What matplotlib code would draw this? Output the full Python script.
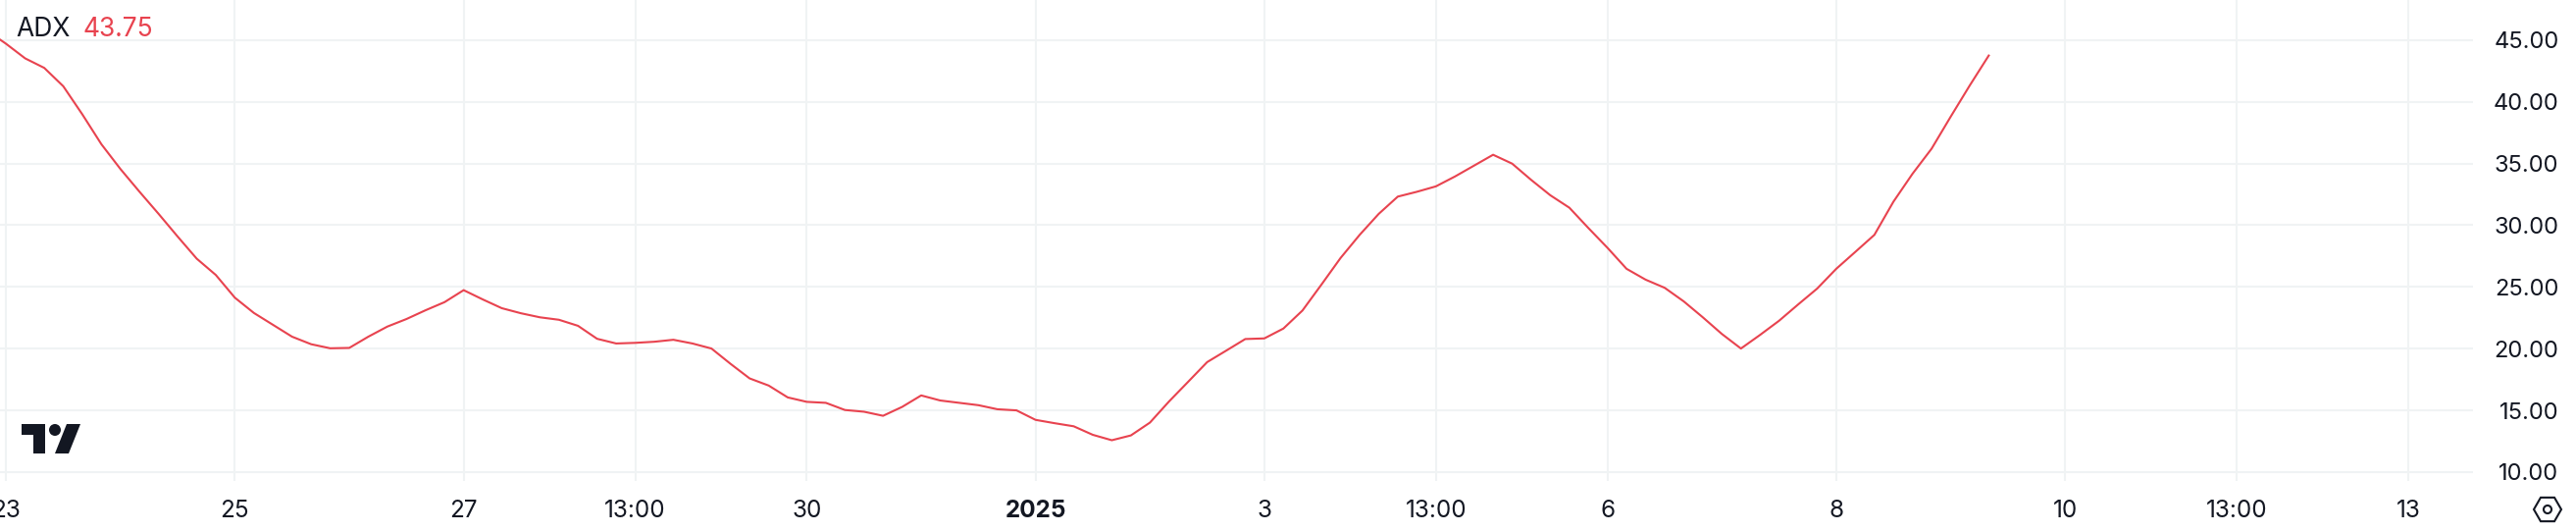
from __future__ import annotations

import matplotlib

matplotlib.use("Agg")
import matplotlib.pyplot as plt
from matplotlib.patches import Circle, Polygon, RegularPolygon

plt.rcParams["font.family"] = ["Inter", "DejaVu Sans"]

W, H = 2626, 542
TEXT = "#131722"
RED = "#E8434F"
GRID = "#F0F3F4"

# ADX per 4h bar, first value sits one bar left of the visible area
adx = [
    45.77, 44.70, 43.52, 42.75, 41.26, 38.98, 36.56, 34.55, 32.71, 30.92, 29.08,
    27.29, 25.97, 24.13, 22.89, 21.93, 20.97, 20.36, 20.03, 20.06, 20.97, 21.79,
    22.40, 23.11, 23.77, 24.74, 23.99, 23.28, 22.87, 22.54, 22.34, 21.85, 20.80,
    20.42, 20.47, 20.56, 20.72, 20.42, 20.01, 18.77, 17.59, 17.01, 16.05, 15.69,
    15.61, 15.03, 14.89, 14.56, 15.28, 16.21, 15.80, 15.61, 15.42, 15.09, 15.00,
    14.23, 13.96, 13.71, 13.02, 12.58, 12.97, 14.01, 15.72, 17.31, 18.91, 19.84,
    20.78, 20.83, 21.63, 23.09, 25.20, 27.35, 29.22, 30.92, 32.32, 32.71, 33.15,
    33.95, 34.83, 35.71, 34.99, 33.67, 32.43, 31.42, 29.77, 28.17, 26.47, 25.59,
    24.93, 23.83, 22.54, 21.19, 20.01, 21.11, 22.26, 23.58, 24.87, 26.47, 27.84,
    29.22, 31.91, 34.17, 36.20, 38.79, 41.32, 43.75,
]
bars = list(range(-1, len(adx) - 1))

x_tick_bars = [0, 12, 24, 33, 42, 54, 66, 75, 84, 96, 108, 117, 126]
x_tick_labels = ["23", "25", "27", "13:00", "30", "2025", "3", "13:00", "6", "8", "10", "13:00", "13"]
y_ticks = [10, 15, 20, 25, 30, 35, 40, 45]

fig = plt.figure(figsize=(W / 100, H / 100), dpi=100, facecolor="white")

# plot area ends at x=2521, y=490 in image pixels
ax = fig.add_axes([0, (H - 490) / H, 2521 / W, 490 / H])
ax.plot(bars, adx, color=RED, linewidth=1.5, solid_joinstyle="round", zorder=3)
ax.set_xlim(-0.32, 129.4)
ax.set_ylim(9.28, 48.25)

ax.set_xticks(x_tick_bars)
ax.set_xticklabels(x_tick_labels)
ax.set_yticks(y_ticks)
ax.set_yticklabels([f"{v:.2f}" for v in y_ticks])
ax.yaxis.tick_right()
ax.tick_params(axis="x", length=0, pad=14, labelsize=17.5, labelcolor=TEXT)
ax.tick_params(axis="y", length=0, pad=63, labelsize=17, labelcolor=TEXT)
for label in ax.get_yticklabels():
    label.set_horizontalalignment("right")
for label in ax.get_xticklabels():
    if label.get_text() == "2025":
        label.set_fontweight("bold")
ax.grid(True, color=GRID, linewidth=1.5)
ax.set_axisbelow(True)
for spine in ax.spines.values():
    spine.set_visible(False)

# overlay in image pixels for legend text, logo and settings icon
overlay = fig.add_axes([0, 0, 1, 1], facecolor="none")
overlay.set_xlim(0, W)
overlay.set_ylim(H, 0)
overlay.axis("off")

overlay.text(16, 30, "ADX", color=TEXT, fontsize=19, va="center", ha="left")
overlay.text(85, 30, "43.75", color=RED, fontsize=19, va="center", ha="left")

overlay.add_patch(Polygon([(22, 432), (46, 432), (46, 462), (34, 462), (34, 443), (22, 443)], color=TEXT, lw=0))
overlay.add_patch(Circle((56, 438), 6, color=TEXT, lw=0))
overlay.add_patch(Polygon([(68, 432), (82, 432), (70, 462), (56, 462)], color=TEXT, lw=0))

overlay.add_patch(
    RegularPolygon((2597, 519), 6, radius=14, orientation=0.5236, fill=False, edgecolor=TEXT, linewidth=1.5)
)
overlay.add_patch(Circle((2597, 519), 4, fill=False, edgecolor=TEXT, linewidth=1.5))

fig.savefig("out.png", dpi=100)
plt.close(fig)
